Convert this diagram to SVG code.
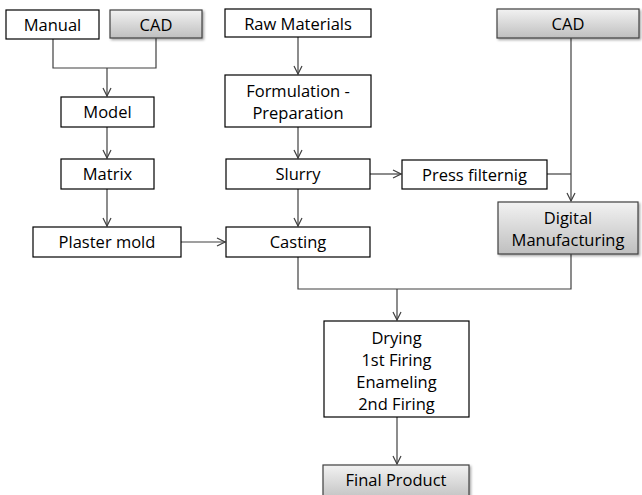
<svg xmlns="http://www.w3.org/2000/svg" width="642" height="495" viewBox="0 0 642 495">
<defs>
<linearGradient id="g" x1="0" y1="0" x2="0" y2="1">
<stop offset="0" stop-color="#f2f2f2"/>
<stop offset="1" stop-color="#bfbfbf"/>
</linearGradient>
<filter id="sh" x="-10%" y="-20%" width="130%" height="160%">
<feDropShadow dx="1.5" dy="1.5" stdDeviation="1.2" flood-color="#000" flood-opacity="0.35"/>
</filter>
<marker id="ar" viewBox="0 0 10 10" refX="9" refY="5" markerWidth="10" markerHeight="10" markerUnits="userSpaceOnUse" orient="auto">
<path d="M1,1 L9,5 L1,9" fill="none" stroke="#404040" stroke-width="1.2"/>
</marker>
</defs>
<style>
.b{fill:#fff;stroke:#000;stroke-width:1.2}
.g{fill:url(#g);stroke:#404040;stroke-width:1.2;filter:url(#sh)}
text{font-family:"Open Sans","Noto Sans",sans-serif;font-size:16.5px;fill:#000;text-anchor:middle}
.c{fill:none;stroke:#404040;stroke-width:1.2}
</style>
<rect width="642" height="495" fill="#fff"/>
<g id="connectors">
<path class="c" d="M53,39 V68 H156 V38"/>
<path class="c" d="M107,68 V96" marker-end="url(#ar)"/>
<path class="c" d="M107,127 V158" marker-end="url(#ar)"/>
<path class="c" d="M107,189 V226" marker-end="url(#ar)"/>
<path class="c" d="M181,242 H225" marker-end="url(#ar)"/>
<path class="c" d="M298,37 V74" marker-end="url(#ar)"/>
<path class="c" d="M298,127 V158" marker-end="url(#ar)"/>
<path class="c" d="M298,189 V226" marker-end="url(#ar)"/>
<path class="c" d="M370,174 H401" marker-end="url(#ar)"/>
<path class="c" d="M547,174 H571"/>
<path class="c" d="M571,38 V201" marker-end="url(#ar)"/>
<path class="c" d="M298,257 V289 H571 V254"/>
<path class="c" d="M397,289 V320" marker-end="url(#ar)"/>
<path class="c" d="M397,417 V464" marker-end="url(#ar)"/>
</g>
<g id="manual"><rect class="b" x="6" y="10" width="93" height="29"/><text x="52.5" y="31">Manual</text></g>
<g id="cad-left"><rect class="g" x="110" y="10" width="92" height="28"/><text x="156" y="30.5">CAD</text></g>
<g id="model"><rect class="b" x="61" y="97" width="93" height="30"/><text x="107.5" y="118">Model</text></g>
<g id="matrix"><rect class="b" x="61" y="159" width="93" height="30"/><text x="107.5" y="180">Matrix</text></g>
<g id="plaster-mold"><rect class="b" x="33" y="227" width="148" height="30"/><text x="107" y="248">Plaster mold</text></g>
<g id="raw-materials"><rect class="b" x="225" y="9" width="146" height="28"/><text x="298" y="29.5">Raw Materials</text></g>
<g id="formulation"><rect class="b" x="225" y="75" width="146" height="52"/><text x="298" y="97">Formulation -</text><text x="298" y="119">Preparation</text></g>
<g id="slurry"><rect class="b" x="226" y="159" width="144" height="30"/><text x="298" y="180">Slurry</text></g>
<g id="casting"><rect class="b" x="226" y="227" width="144" height="30"/><text x="298" y="248">Casting</text></g>
<g id="press-filternig"><rect class="b" x="402" y="160" width="145" height="29"/><text x="474.5" y="181">Press filternig</text></g>
<g id="cad-right"><rect class="g" x="497" y="9" width="142" height="29"/><text x="568" y="30">CAD</text></g>
<g id="digital-manufacturing"><rect class="g" x="498" y="202" width="140" height="52"/><text x="568" y="224">Digital</text><text x="568" y="246">Manufacturing</text></g>
<g id="processing"><rect class="b" x="324" y="321" width="145" height="96"/><text x="396.5" y="344">Drying</text><text x="396.5" y="366">1st Firing</text><text x="396.5" y="388">Enameling</text><text x="396.5" y="410">2nd Firing</text></g>
<g id="final-product"><rect class="g" x="323" y="465" width="146" height="36"/><text x="396" y="486">Final Product</text></g>
</svg>
